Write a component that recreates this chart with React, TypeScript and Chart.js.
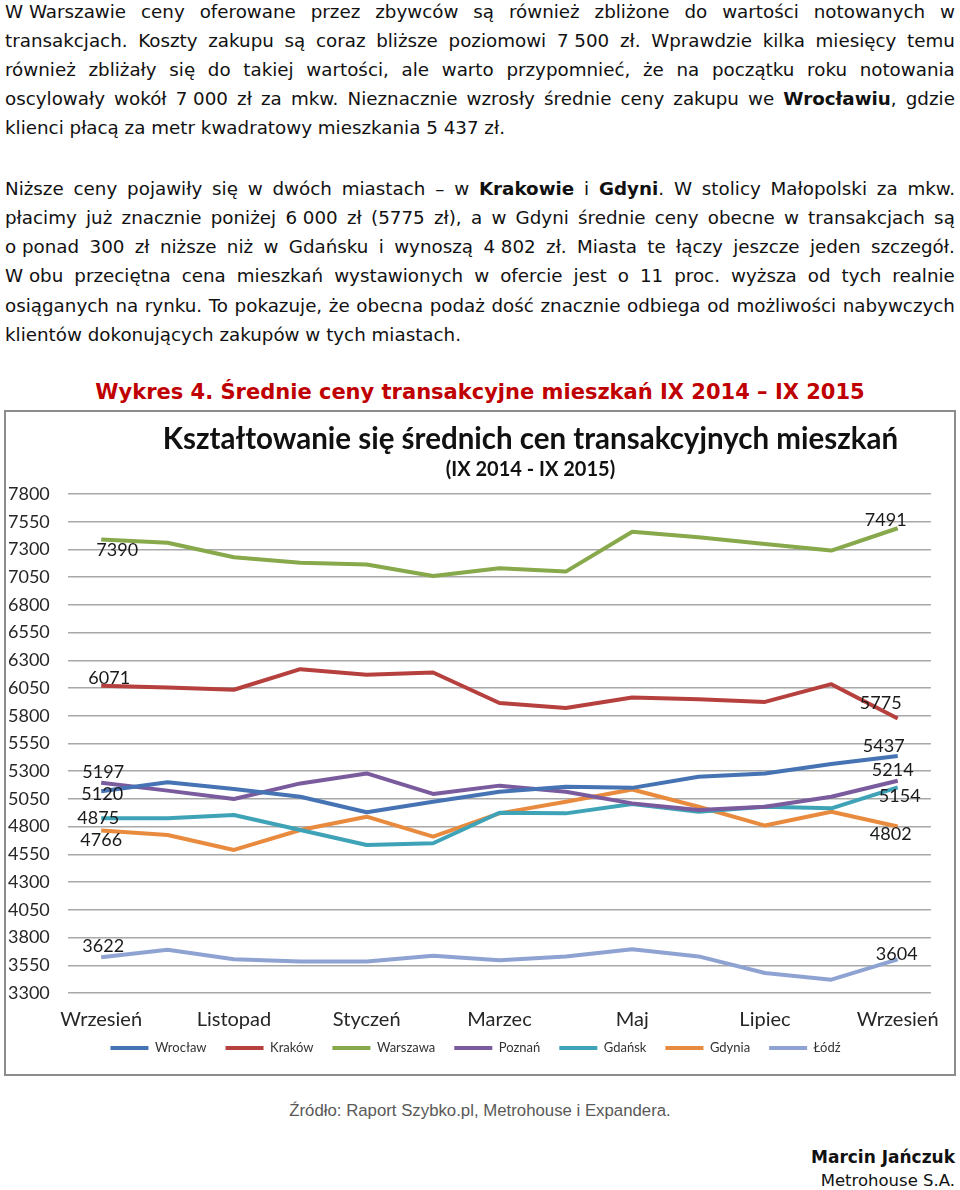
import React, { useEffect, useRef } from "react";
import { Chart, registerables } from "chart.js";

Chart.register(...registerables);

// ---------- data ----------
const months = [
  "Wrzesień", "Październik", "Listopad", "Grudzień", "Styczeń", "Luty", "Marzec",
  "Kwiecień", "Maj", "Czerwiec", "Lipiec", "Sierpień", "Wrzesień",
];
const seriesNames = ["Wrocław", "Kraków", "Warszawa", "Poznań", "Gdańsk", "Gdynia", "Łódź"];
const wroclaw = [5120, 5200, 5140, 5070, 4930, 5025, 5115, 5160, 5150, 5250, 5280, 5365, 5437];
const krakow = [6071, 6055, 6035, 6220, 6170, 6190, 5915, 5870, 5965, 5950, 5925, 6085, 5775];
const warszawa = [7390, 7360, 7230, 7180, 7165, 7060, 7130, 7100, 7460, 7410, 7350, 7290, 7491];
const poznan = [5197, 5125, 5050, 5190, 5280, 5095, 5170, 5115, 5010, 4950, 4980, 5070, 5214];
const gdansk = [4875, 4875, 4905, 4770, 4635, 4650, 4925, 4920, 5005, 4935, 4980, 4965, 5154];
const gdynia = [4766, 4725, 4590, 4770, 4890, 4710, 4920, 5025, 5135, 4980, 4810, 4935, 4802];
const lodz = [3622, 3690, 3605, 3585, 3585, 3635, 3595, 3630, 3695, 3630, 3480, 3420, 3604];
const seriesValues = [wroclaw, krakow, warszawa, poznan, gdansk, gdynia, lodz];
const yMin = 3300;
const yMax = 7800;
const yStep = 250;

const chartTitle = "Kształtowanie się średnich cen transakcyjnych mieszkań";
const chartSubtitle = "(IX 2014 - IX 2015)";

// ---------- styles ----------
const seriesColors = ["#4673B3", "#B5403D", "#87A84B", "#7A5B9D", "#3FA3B8", "#E98B3E", "#8FA3D3"];
// value labels: [series index, point index, dx, dy]
const valueLabels: [number, number, number, number][] = [
  [2, 0, 16, 11], [1, 0, 8, -8], [3, 0, 2, -10], [0, 0, 1, 3], [4, 0, -3, 0], [5, 0, 0, 10], [6, 0, 2, -11],
  [2, 12, -12, -8], [1, 12, -17, -15], [0, 12, -14, -10], [3, 12, -5, -11], [4, 12, 2, 9], [5, 12, -7, 8], [6, 12, -1, -5],
];

const para1 = [
  "W\u00A0Warszawie ceny oferowane przez zbywców są również zbliżone do wartości notowanych w",
  "transakcjach. Koszty zakupu są coraz bliższe poziomowi 7\u00A0500 zł. Wprawdzie kilka miesięcy temu",
  "również zbliżały się do takiej wartości, ale warto przypomnieć, że na początku roku notowania",
  "oscylowały wokół 7\u00A0000 zł za mkw. Nieznacznie wzrosły średnie ceny zakupu we **Wrocławiu**, gdzie",
  "klienci płacą za metr kwadratowy mieszkania 5\u00A0437 zł.",
];
const para2 = [
  "Niższe ceny pojawiły się w dwóch miastach – w **Krakowie** i **Gdyni**. W stolicy Małopolski za mkw.",
  "płacimy już znacznie poniżej 6\u00A0000 zł (5775 zł), a w Gdyni średnie ceny obecne w transakcjach są",
  "o\u00A0ponad 300 zł niższe niż w Gdańsku i wynoszą 4\u00A0802 zł. Miasta te łączy jeszcze jeden szczegół.",
  "W\u00A0obu przeciętna cena mieszkań wystawionych w ofercie jest o 11 proc. wyższa od tych realnie",
  "osiąganych na rynku. To pokazuje, że obecna podaż dość znacznie odbiega od możliwości nabywczych",
  "klientów dokonujących zakupów w tych miastach.",
];

const bodyFont = "'DejaVu Sans', Verdana, sans-serif";

function renderWords(line: string) {
  let bold = false;
  return line.split(" ").map((w, i) => {
    const parts = w.split("**");
    const out = parts.map((p, j) => {
      if (j > 0) bold = !bold;
      return p ? (
        <span key={j} style={{ fontWeight: bold ? 700 : 400 }}>{p}</span>
      ) : null;
    });
    return <span key={i}>{out}</span>;
  });
}

function Paragraph({ lines, top }: { lines: string[]; top: number }) {
  return (
    <div style={{ position: "absolute", left: 5, top, width: 950, fontFamily: bodyFont, fontSize: 18.3, color: "#111" }}>
      {lines.map((ln, i) => {
        const last = i === lines.length - 1;
        const words = renderWords(ln);
        if (last) {
          const spaced: React.ReactNode[] = [];
          words.forEach((w, k) => {
            if (k > 0) spaced.push(" ");
            spaced.push(w);
          });
          return (
            <div key={i} style={{ height: 29.1, lineHeight: "29.1px", whiteSpace: "nowrap" }}>{spaced}</div>
          );
        }
        return (
          <div key={i} style={{ height: 29.1, lineHeight: "29.1px", whiteSpace: "nowrap", display: "flex", justifyContent: "space-between" }}>
            {words}
          </div>
        );
      })}
    </div>
  );
}

const titlePlugin = {
  id: "chartHeading",
  afterDraw(chart: any) {
    const { ctx, chartArea } = chart;
    const cx = (chartArea.left + chartArea.right) / 2 + 31;
    ctx.save();
    ctx.fillStyle = "#111";
    ctx.textAlign = "center";
    ctx.textBaseline = "middle";
    ctx.font = "bold 29.5px Lato";
    ctx.fillText(chartTitle, cx, 27);
    ctx.font = "bold 20px Lato";
    ctx.fillText(chartSubtitle, cx, 58);
    ctx.restore();
  },
};

const valueLabelPlugin = {
  id: "valueLabels",
  afterDatasetsDraw(chart: any) {
    const { ctx } = chart;
    ctx.save();
    ctx.fillStyle = "#1a1a1a";
    ctx.textAlign = "center";
    ctx.textBaseline = "middle";
    ctx.font = "18px Lato";
    valueLabels.forEach(([ds, idx, dx, dy]) => {
      const pt = chart.getDatasetMeta(ds).data[idx];
      const v = chart.data.datasets[ds].data[idx];
      ctx.fillText(String(v), pt.x + dx, pt.y + dy);
    });
    ctx.restore();
  },
};

function PriceChart() {
  const ref = useRef<HTMLCanvasElement>(null);
  useEffect(() => {
    if (!ref.current) return;
    const chart = new Chart(ref.current, {
      type: "line",
      data: {
        labels: months,
        datasets: seriesNames.map((name, i) => ({
          label: name,
          data: seriesValues[i],
          borderColor: seriesColors[i],
          backgroundColor: seriesColors[i],
          borderWidth: 4,
          pointRadius: 0,
          tension: 0,
          fill: false,
          borderJoinStyle: "round" as const,
        })),
      },
      options: {
        animation: false,
        responsive: false,
        devicePixelRatio: 1,
        font: { family: "Lato" } as any,
        layout: { padding: { left: 2, right: 11, top: 82, bottom: 9.5 } },
        plugins: {
          tooltip: { enabled: false },
          title: { display: false },
          legend: {
            position: "bottom",
            labels: {
              boxWidth: 38,
              boxHeight: 4,
              padding: 11.5,
              color: "#333",
              font: { size: 13, family: "Lato" },
              generateLabels: (c: any) => {
                const items = (Chart.defaults.plugins.legend.labels.generateLabels as any)(c);
                return items.map((l: any, i: number) => ({
                  ...l,
                  text: i < items.length - 1 ? l.text + "  \u200A" : l.text,
                  lineWidth: 0,
                  fillStyle: l.strokeStyle,
                }));
              },
            },
          },
        },
        scales: {
          x: {
            offset: true,
            grid: { display: false, drawTicks: false },
            border: { display: false },
            ticks: {
              autoSkip: false,
              maxRotation: 0,
              padding: 15,
              color: "#262626",
              font: { size: 20, family: "Lato" },
              callback: (_v: any, i: number) => (i % 2 === 0 ? months[i] : ""),
            },
            afterFit: (s: any) => {
              s.height = 37;
            },
          },
          y: {
            min: yMin,
            max: yMax,
            ticks: {
              stepSize: yStep,
              crossAlign: "far",
              color: "#262626",
              font: { size: 18, family: "Lato" },
              callback: (v: any) => String(v),
            },
            grid: { color: "#a8a8a8", lineWidth: 1.5, drawTicks: false },
            border: { display: false },
            afterFit: (s: any) => {
              s.width = 60;
            },
          },
        },
      },
      plugins: [titlePlugin, valueLabelPlugin],
    });
    return () => chart.destroy();
  }, []);
  return (
    <canvas
      ref={ref}
      width={948}
      height={662}
      style={{ position: "absolute", left: 6, top: 412, width: 948, height: 662 }}
    />
  );
}

export default function App() {
  return (
    <div style={{ position: "absolute", left: 0, top: 0, width: 960, height: 1190, background: "#fff", overflow: "hidden" }}>
      <Paragraph lines={para1} top={-3.5} />
      <Paragraph lines={para2} top={174.2} />
      <div
        style={{
          position: "absolute", left: 0, top: 381, width: 960, textAlign: "center",
          fontFamily: bodyFont, fontWeight: 700, fontSize: 21, lineHeight: "23px", color: "#C00000", whiteSpace: "nowrap",
        }}
      >
        Wykres 4. Średnie ceny transakcyjne mieszkań IX 2014 – IX 2015
      </div>
      <div
        style={{
          position: "absolute", left: 4, top: 410, width: 948, height: 662,
          border: "2px solid #8c8c8c",
        }}
      />
      <PriceChart />
      <div
        style={{
          position: "absolute", left: 0, top: 1101, width: 960, textAlign: "center",
          fontFamily: "'Liberation Sans', Arial, sans-serif", fontSize: 16.8, lineHeight: "19px", color: "#595959",
        }}
      >
        Źródło: Raport Szybko.pl, Metrohouse i Expandera.
      </div>
      <div
        style={{
          position: "absolute", right: 5, top: 1146, textAlign: "right",
          fontFamily: bodyFont, lineHeight: "23px", color: "#111", whiteSpace: "nowrap",
        }}
      >
        <div style={{ fontWeight: 700, fontSize: 17 }}>Marcin Jańczuk</div>
        <div style={{ fontSize: 16.5 }}>Metrohouse S.A.</div>
      </div>
    </div>
  );
}
